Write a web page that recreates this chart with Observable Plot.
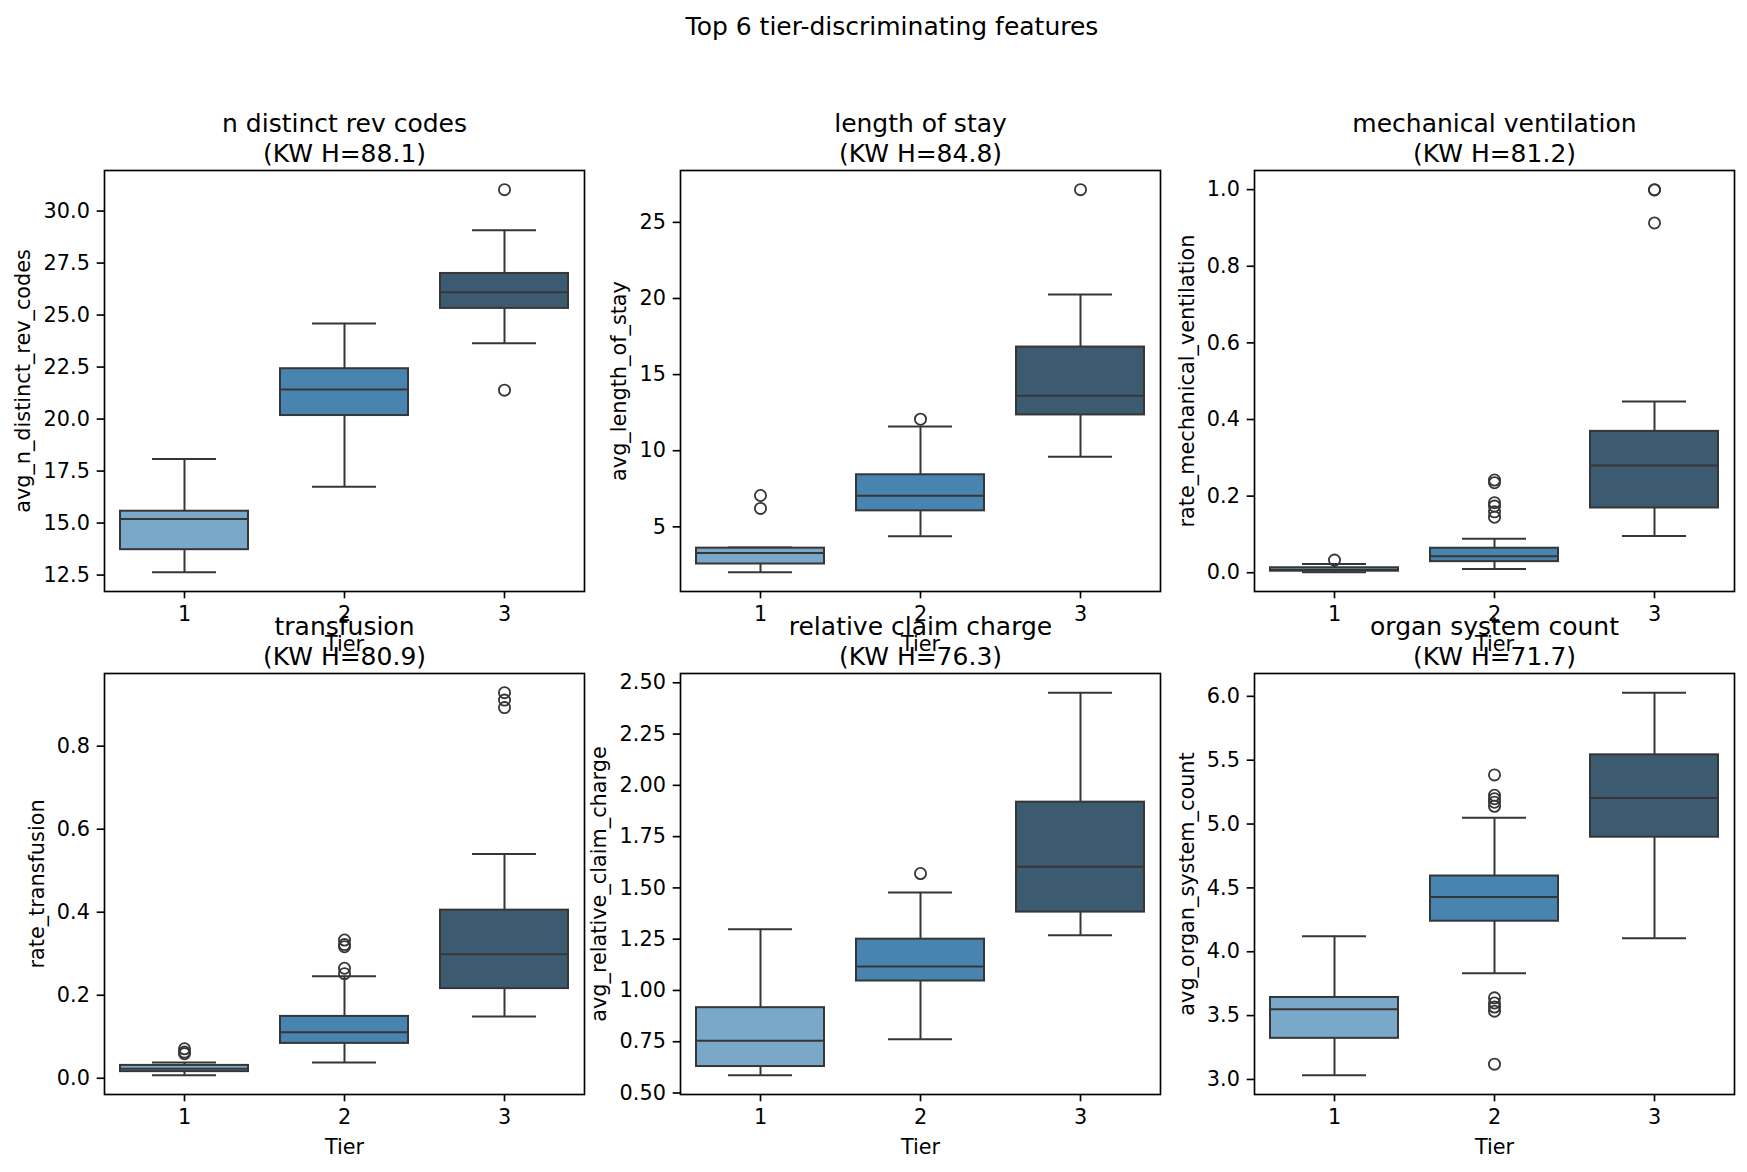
<!DOCTYPE html>
<html>
<head>
<meta charset="utf-8">
<script src="https://cdn.jsdelivr.net/npm/d3@7"></script>
<script src="https://cdn.jsdelivr.net/npm/@observablehq/plot@0.6"></script>
<style>
  html, body { margin: 0; padding: 0; background: white; }
  #fig { position: relative; width: 1747px; height: 1172px; overflow: hidden; background: white; font-family: "DejaVu Sans", sans-serif; }
  #suptitle { position: absolute; left: 0; width: 1784px; top: 12px; line-height: 30px; font-size: 25px; text-align: center; color: black; }
  #fig svg { position: absolute; }
</style>
</head>
<body>
<div id="fig"><div id="suptitle">Top 6 tier-discriminating features</div></div>
<script>
// ---- data ----
const tiers = [1, 2, 3];
const tierColors = ["#7aa8c9", "#4884b0", "#3c5a70"];

const featureNames = ["n distinct rev codes", "length of stay", "mechanical ventilation",
                      "transfusion", "relative claim charge", "organ system count"];
const kwH = [88.1, 84.8, 81.2, 80.9, 76.3, 71.7];
const yLabels = ["avg_n_distinct_rev_codes", "avg_length_of_stay", "rate_mechanical_ventilation",
                 "rate_transfusion", "avg_relative_claim_charge", "avg_organ_system_count"];

// box rows: [tier, whiskerLow, q1, median, q3, whiskerHigh]
const revCodesBoxes = [
  [1, 12.63, 13.72, 15.20, 15.57, 18.08],
  [2, 16.74, 20.17, 21.42, 22.42, 24.60],
  [3, 23.64, 25.32, 26.10, 27.00, 29.08]
];
const revCodesOutliers = [[3, 31.03], [3, 21.39]];

const losBoxes = [
  [1, 2.01, 2.56, 3.29, 3.60, 3.64],
  [2, 4.39, 6.05, 7.04, 8.42, 11.59],
  [3, 9.61, 12.35, 13.61, 16.81, 20.26]
];
const losOutliers = [[1, 7.06], [1, 6.21], [2, 12.07], [3, 27.15]];

const mechVentBoxes = [
  [1, 0.001, 0.004, 0.008, 0.013, 0.023],
  [2, 0.010, 0.029, 0.043, 0.064, 0.089],
  [3, 0.096, 0.169, 0.280, 0.369, 0.447]
];
const mechVentOutliers = [[1, 0.033], [2, 0.242], [2, 0.235], [2, 0.183], [2, 0.174],
                          [2, 0.159], [2, 0.145], [3, 1.0], [3, 0.999], [3, 0.913]];

const transfusionBoxes = [
  [1, 0.007, 0.016, 0.023, 0.031, 0.038],
  [2, 0.038, 0.084, 0.111, 0.149, 0.246],
  [3, 0.149, 0.216, 0.299, 0.405, 0.540]
];
const transfusionOutliers = [[1, 0.071], [1, 0.063], [1, 0.059], [2, 0.333], [2, 0.322],
                             [2, 0.317], [2, 0.265], [2, 0.252], [3, 0.929], [3, 0.911], [3, 0.893]];

const claimBoxes = [
  [1, 0.586, 0.629, 0.755, 0.916, 1.298],
  [2, 0.762, 1.046, 1.117, 1.250, 1.478],
  [3, 1.269, 1.382, 1.603, 1.918, 2.452]
];
const claimOutliers = [[2, 1.570]];

const organBoxes = [
  [1, 3.032, 3.322, 3.549, 3.642, 4.122],
  [2, 3.831, 4.239, 4.428, 4.593, 5.049],
  [3, 4.106, 4.897, 5.203, 5.542, 6.029]
];
const organOutliers = [[2, 5.385], [2, 5.225], [2, 5.198], [2, 5.171], [2, 5.139],
                       [2, 3.639], [2, 3.599], [2, 3.567], [2, 3.535], [2, 3.120]];

// tick labels
const revCodesTicks = [12.5, 15.0, 17.5, 20.0, 22.5, 25.0, 27.5, 30.0];
const losTicks = [5, 10, 15, 20, 25];
const mechVentTicks = [0.0, 0.2, 0.4, 0.6, 0.8, 1.0];
const transfusionTicks = [0.0, 0.2, 0.4, 0.6, 0.8];
const claimTicks = [0.50, 0.75, 1.00, 1.25, 1.50, 1.75, 2.00, 2.25, 2.50];
const organTicks = [3.0, 3.5, 4.0, 4.5, 5.0, 5.5, 6.0];
const tickFormats = [".1f", "d", ".1f", ".1f", ".2f", ".1f"];

const boxesList = [revCodesBoxes, losBoxes, mechVentBoxes, transfusionBoxes, claimBoxes, organBoxes];
const outliersList = [revCodesOutliers, losOutliers, mechVentOutliers, transfusionOutliers, claimOutliers, organOutliers];
const ticksList = [revCodesTicks, losTicks, mechVentTicks, transfusionTicks, claimTicks, organTicks];

// ---- layout ----
const colLeft = [104, 680, 1254];
const rowTop = [170, 673];
const frameW = 480, frameH = 421;
const mL = 110, mR = 14, mT = 80, mB = 80;
const FS = 20.8;          // 10pt @150dpi
const TFS = 25;           // 12pt @150dpi
const lineColor = "#363636";
const lw = 2.0;

function labelWidth(str) {
  // approximate DejaVu Sans widths for digits and '.'
  let w = 0;
  for (const c of str) w += (c === ".") ? 0.318 : 0.636;
  return w * FS;
}

const fig = document.getElementById("fig");

for (let i = 0; i < 6; i++) {
  const boxes = boxesList[i], outl = outliersList[i], ticks = ticksList[i];
  const fmt = d3.format(tickFormats[i]);
  const allVals = boxes.flatMap(b => b.slice(1)).concat(outl.map(o => o[1]));
  const lo = d3.min(allVals), hi = d3.max(allVals), pad = (hi - lo) * 0.05;
  const maxTickW = d3.max(ticks, t => labelWidth(fmt(t)));

  const plot = Plot.plot({
    width: mL + frameW + mR,
    height: mT + frameH + mB,
    marginLeft: mL, marginRight: mR, marginTop: mT, marginBottom: mB,
    style: {background: "transparent", fontFamily: "DejaVu Sans, sans-serif", fontSize: FS + "px", color: "black", overflow: "visible", maxWidth: "none"},
    x: {domain: [0.5, 3.5]},
    y: {domain: [lo - pad, hi + pad]},
    color: {type: "ordinal", domain: tiers, range: tierColors},
    marks: [
      // whiskers
      Plot.ruleX(boxes, {x: d => d[0], y1: d => d[1], y2: d => d[2], stroke: lineColor, strokeWidth: lw}),
      Plot.ruleX(boxes, {x: d => d[0], y1: d => d[4], y2: d => d[5], stroke: lineColor, strokeWidth: lw}),
      // caps
      Plot.ruleY(boxes, {y: d => d[1], x1: d => d[0] - 0.2, x2: d => d[0] + 0.2, stroke: lineColor, strokeWidth: lw}),
      Plot.ruleY(boxes, {y: d => d[5], x1: d => d[0] - 0.2, x2: d => d[0] + 0.2, stroke: lineColor, strokeWidth: lw}),
      // boxes
      Plot.rect(boxes, {x1: d => d[0] - 0.4, x2: d => d[0] + 0.4, y1: d => d[2], y2: d => d[4], fill: d => d[0], stroke: lineColor, strokeWidth: lw}),
      // medians
      Plot.ruleY(boxes, {y: d => d[3], x1: d => d[0] - 0.4, x2: d => d[0] + 0.4, stroke: lineColor, strokeWidth: lw}),
      // outliers
      Plot.dot(outl, {x: d => d[0], y: d => d[1], r: 5.6, stroke: lineColor, strokeWidth: 1.8, fill: "none"}),
      // axes
      Plot.axisX({ticks: tiers, tickFormat: d => String(d), tickSize: 7.3, tickPadding: 7.3, fontSize: FS, label: null, strokeWidth: 1.67}),
      Plot.axisY({ticks: ticks, tickFormat: fmt, tickSize: 7.3, tickPadding: 7.3, fontSize: FS, label: null, strokeWidth: 1.67}),
      Plot.frame({stroke: "black", strokeWidth: 1.67}),
      // axis labels
      Plot.text(["Tier"], {text: d => d, frameAnchor: "bottom", dy: 53, lineAnchor: "middle", fontSize: FS}),
      Plot.text([yLabels[i]], {text: d => d, frameAnchor: "left", textAnchor: "middle", rotate: -90, dx: -(27.8 + maxTickW), lineAnchor: "bottom", fontSize: FS}),
      // titles
      Plot.text([featureNames[i]], {text: d => d, frameAnchor: "top", dy: -47, lineAnchor: "middle", fontSize: TFS}),
      Plot.text([`(KW H=${kwH[i]})`], {text: d => d, frameAnchor: "top", dy: -17, lineAnchor: "middle", fontSize: TFS})
    ]
  });
  const col = i % 3, row = Math.floor(i / 3);
  plot.style.left = (colLeft[col] - mL) + "px";
  plot.style.top = (rowTop[row] - mT) + "px";
  plot.style.position = "absolute";
  fig.appendChild(plot);
}
</script>
</body>
</html>
